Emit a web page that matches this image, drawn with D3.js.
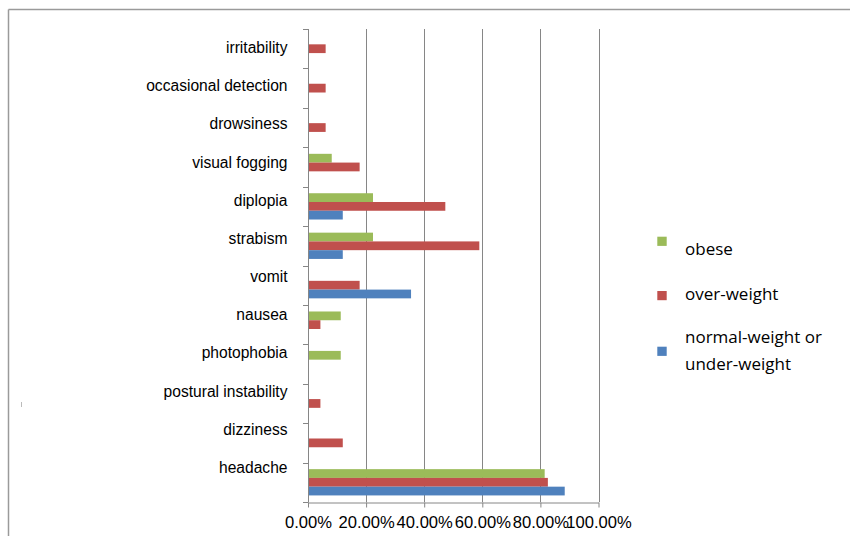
<!DOCTYPE html>
<html>
<head>
<meta charset="utf-8">
<script src="https://cdn.jsdelivr.net/npm/d3@7"></script>
<style>
html,body{margin:0;padding:0;background:#fff;}
svg{display:block;}
</style>
</head>
<body>
<svg id="chart" width="850" height="536"></svg>
<script>
// Categories listed bottom to top (Excel order)
const categories = ["headache","dizziness","postural instability","photophobia","nausea","vomit","strabism","diplopia","visual fogging","drowsiness","occasional detection","irritability"];
const seriesNames = ["obese","over-weight","normal-weight or under-weight"];
const obese      = [0.813, 0,     0,     0.111, 0.111, 0,     0.222, 0.222, 0.080, 0,     0,     0];
const overWeight = [0.824, 0.118, 0.041, 0,     0.041, 0.176, 0.588, 0.471, 0.176, 0.059, 0.059, 0.059];
const normal     = [0.882, 0,     0,     0,     0,     0.353, 0.118, 0.118, 0,     0,     0,     0];
const xTicks = [0, 0.2, 0.4, 0.6, 0.8, 1.0];
const colors = ["#9BBB59", "#C0504D", "#4F81BD"];

(function () {
const seriesValues = [obese, overWeight, normal];
const svg = d3.select("#chart");

// outer frame (top and left edges visible)
svg.append("line").attr("x1",8.5).attr("x2",850).attr("y1",9.5).attr("y2",9.5).attr("stroke","#9a9a9a").attr("stroke-width",1.5);
svg.append("line").attr("x1",8.5).attr("x2",8.5).attr("y1",9.5).attr("y2",536).attr("stroke","#9a9a9a").attr("stroke-width",1.5);
svg.append("line").attr("x1",21.5).attr("x2",21.5).attr("y1",402).attr("y2",407).attr("stroke","#bbbbbb").attr("stroke-width",1);

const pLeft = 308, pRight = 598.5, pTop = 29, pBottom = 502;
const x = d3.scaleLinear().domain([0,1]).range([pLeft,pRight]);
const y = d3.scaleBand().domain(categories).range([pBottom, pTop]).padding(0);
const ySub = d3.scaleBand().domain(seriesNames).range([0, y.bandwidth()]).paddingInner(0).paddingOuter(0.75);
// label baselines (labels in the original are laid out on a slightly tighter pitch than the bands)
const yLabel = d3.scalePoint().domain(categories).range([473, 53]);

// gridlines
svg.append("g").selectAll("line").data(xTicks.slice(1)).join("line")
  .attr("x1", d => Math.round(x(d)) + 0.5).attr("x2", d => Math.round(x(d)) + 0.5)
  .attr("y1", pTop).attr("y2", pBottom)
  .attr("stroke", "#868686").attr("stroke-width", 1);

// bars
seriesNames.forEach((s, si) => {
  svg.append("g").selectAll("rect").data(categories.map((c, i) => ({c, v: seriesValues[si][i]})).filter(d => d.v > 0))
    .join("rect")
    .attr("x", x(0) + 0.5)
    .attr("y", d => y(d.c) + ySub(s))
    .attr("width", d => x(d.v) - x(0))
    .attr("height", ySub.bandwidth())
    .attr("fill", colors[si]);
});

// y axis (ticks at band boundaries)
const yAxisG = svg.append("g");
yAxisG.append("line").attr("x1", pLeft + 0.5).attr("x2", pLeft + 0.5).attr("y1", pTop).attr("y2", pBottom).attr("stroke", "#868686");
const bounds = categories.map(c => y(c)).concat([pBottom]);
yAxisG.selectAll("line.tk").data(bounds).join("line").attr("class","tk")
  .attr("x1", pLeft - 5).attr("x2", pLeft + 0.5)
  .attr("y1", d => Math.round(d) + 0.5).attr("y2", d => Math.round(d) + 0.5)
  .attr("stroke", "#868686");
yAxisG.selectAll("text").data(categories).join("text")
  .attr("x", 287.5)
  .attr("y", d => yLabel(d))
  .attr("text-anchor", "end")
  .attr("font-family", "'Liberation Sans', Arial, sans-serif")
  .attr("font-size", "15.6px")
  .attr("fill", "#000")
  .text(d => d);

// x axis
const xAxis = d3.axisBottom(x).tickValues(xTicks).tickSize(5).tickSizeOuter(0)
  .tickFormat(d => (d * 100).toFixed(2) + "%");
const xg = svg.append("g").attr("transform", `translate(0,${pBottom + 0.5})`).call(xAxis);
xg.select(".domain").attr("stroke", "#868686");
xg.selectAll(".tick line").attr("stroke", "#868686");
xg.selectAll(".tick text")
  .attr("y", 14)
  .attr("dy", "0.71em")
  .attr("font-family", "'Liberation Sans', Arial, sans-serif")
  .attr("font-size", "16.6px")
  .attr("fill", "#000");

// legend
const legend = svg.append("g");
const legItems = [
  {color: colors[0], sq: 236.7, lines: [["obese", 255]]},
  {color: colors[1], sq: 291, lines: [["over-weight", 300]]},
  {color: colors[2], sq: 346.7, lines: [["normal-weight or", 343], ["under-weight", 370]]}
];
legItems.forEach(it => {
  legend.append("rect").attr("x", 657.3).attr("y", it.sq).attr("width", 9.4).attr("height", 9.2).attr("fill", it.color);
  it.lines.forEach(l => {
    legend.append("text").attr("x", 685).attr("y", l[1])
      .attr("font-family", "'Open Sans', 'Noto Sans', sans-serif")
      .attr("font-size", "17px").attr("fill", "#000").text(l[0]);
  });
});
})();
</script>
</body>
</html>
